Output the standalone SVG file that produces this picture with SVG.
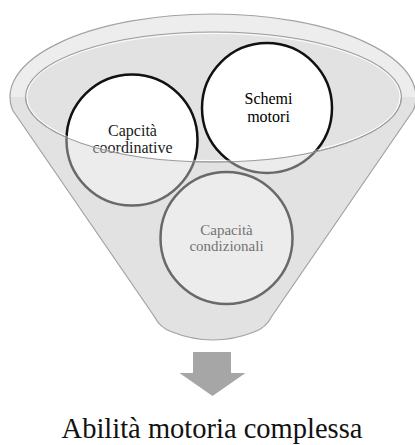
<svg xmlns="http://www.w3.org/2000/svg" width="415" height="445" viewBox="0 0 415 445">
  <defs>
    <style>
      .ring { fill: #ffffff; stroke: #111111; stroke-width: 2.5; }
      .edge { fill: none; stroke: #a3a3a3; stroke-width: 1.2; }
      text { font-family: 'Liberation Serif', 'Times New Roman', Times, 'DejaVu Serif', serif; text-anchor: middle; }
    </style>
  </defs>
  <rect width="415" height="445" fill="#ffffff"/>

  <g id="funnel">
    <path d="M12.5,110 A203,83 0 1 1 413.5,110 L272,316 Q266,328 254,332 Q213,348 172,332 Q160,328 154,316 Z" fill="#ededed"/>
    <ellipse cx="213.5" cy="97" rx="188" ry="65" fill="#e2e2e2" stroke="#9c9c9c" stroke-width="1.1"/>
    <ellipse cx="213.5" cy="97" rx="186.6" ry="63.6" fill="none" stroke="#ffffff" stroke-width="1" opacity="0.9"/>
  </g>

  <g id="node-coordinative">
    <circle class="ring" cx="132" cy="140" r="65.5"/>
    <text x="132.5" y="136" font-size="16" fill="#1a1a1a">Capcità</text>
    <text x="132.5" y="153" font-size="16" fill="#1a1a1a">coordinative</text>
  </g>

  <g id="node-schemi">
    <circle class="ring" cx="267" cy="108" r="65"/>
    <text x="268.5" y="104" font-size="16" fill="#000000">Schemi</text>
    <text x="268.5" y="122" font-size="16" fill="#000000">motori</text>
  </g>

  <g id="node-condizionali">
    <circle class="ring" cx="226.5" cy="238" r="66"/>
    <text x="226.5" y="235" font-size="15" fill="#1a1a1a">Capacità</text>
    <text x="226.5" y="251" font-size="15" fill="#1a1a1a">condizionali</text>
  </g>

  <g id="funnel-front">
    <path d="M25.5,97 A188,65 0 0 0 401.5,97 L416,97 A203,83 0 0 1 413.5,110 L272,316 Q266,328 254,332 Q213,348 172,332 Q160,328 154,316 L12.5,110 A203,83 0 0 1 10,97 Z" fill="#d4d4d4" opacity="0.45"/>
    <path d="M26.9,97 A186.6,63.6 0 0 0 400.1,97" fill="none" stroke="#ffffff" stroke-width="1" opacity="0.6"/>
    <path d="M25.5,97 A188,65 0 0 0 401.5,97" fill="none" stroke="#9c9c9c" stroke-width="1.1"/>
    <path class="edge" d="M12.5,110 A203,83 0 1 1 413.5,110 L272,316 Q266,328 254,332 Q213,348 172,332 Q160,328 154,316 Z"/>
  </g>

  <g id="connectors">
    <polygon points="193,352 231,352 231,373 245.5,373 212.5,396 179.5,373 193,373" fill="#a6a6a6"/>
  </g>

  <g id="node-result">
    <text x="212" y="437.5" font-size="28.5" fill="#111111">Abilità motoria complessa</text>
  </g>
</svg>
